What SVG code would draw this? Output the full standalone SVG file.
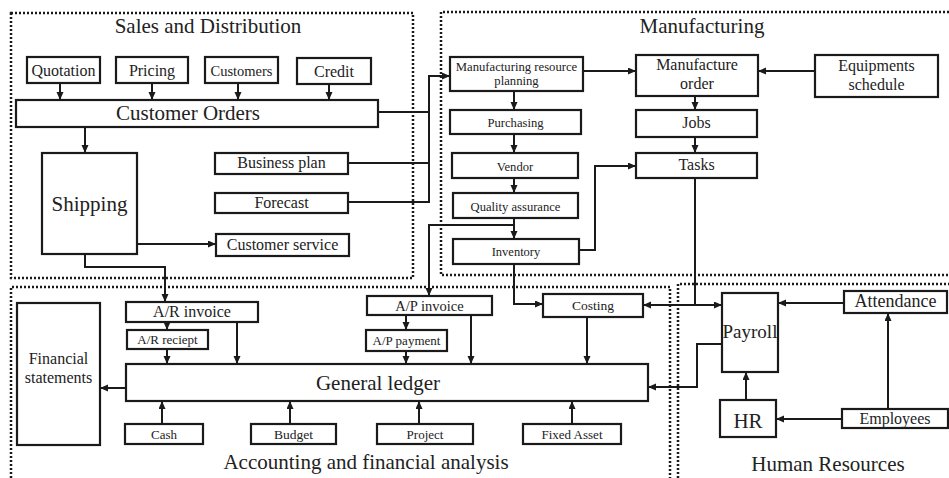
<svg xmlns="http://www.w3.org/2000/svg" width="949" height="478" viewBox="0 0 949 478" font-family="'Liberation Serif', 'DejaVu Serif', serif">
  <defs>
    <marker id="arrow" markerUnits="userSpaceOnUse" markerWidth="9" markerHeight="8" refX="8" refY="3.5" orient="auto-start-reverse">
      <path d="M0,0 L8,3.5 L0,7 z" fill="#1a1a1a"/>
    </marker>
  </defs>
  <style>
    .zone { fill: none; stroke: #1a1a1a; stroke-width: 2.5; stroke-dasharray: 2 2; }
    .box { fill: #fff; stroke: #1a1a1a; stroke-width: 2.2; }
    .wire { fill: none; stroke: #1a1a1a; stroke-width: 2; }
    .arr { marker-end: url(#arrow); }
    text { fill: #222; text-anchor: middle; }
    .title { font-size: 21px; }
  </style>

  <!-- functional areas -->
  <g id="areas">
    <rect class="zone" x="11" y="13" width="402" height="265"/>
    <path class="zone" d="M949,12 H441 V275 H949"/>
    <path class="zone" d="M11,478 V287 H670 V478"/>
    <path class="zone" d="M678,478 V284 H949"/>
    <text class="title" x="208" y="33">Sales and Distribution</text>
    <text class="title" x="702" y="33">Manufacturing</text>
    <text class="title" x="366" y="469">Accounting and financial analysis</text>
    <text class="title" x="828" y="471">Human Resources</text>
  </g>

  <!-- connectors -->
  <g id="connectors">
    <path class="wire arr" d="M60,83 V100"/>
    <path class="wire arr" d="M152,83 V100"/>
    <path class="wire arr" d="M238,83 V100"/>
    <path class="wire arr" d="M329,84 V100"/>
    <path class="wire arr" d="M85,127 V153"/>
    <path class="wire arr" d="M137,244 H216"/>
    <path class="wire arr" d="M85,254 V267 H165 V302"/>
    <path class="wire arr" d="M378,112 H429 V76 H450"/>
    <path class="wire" d="M348,163 H429"/>
    <path class="wire" d="M348,202 H429 V112"/>
    <path class="wire arr" d="M583,71 H636"/>
    <path class="wire arr" d="M815,71 H758"/>
    <path class="wire arr" d="M695,96 V110"/>
    <path class="wire arr" d="M695,137 V153"/>
    <path class="wire arr" d="M514,91 V110"/>
    <path class="wire arr" d="M514,134 V153"/>
    <path class="wire arr" d="M514,178 V193"/>
    <path class="wire arr" d="M514,218 V239"/>
    <path class="wire arr" d="M514,225 H429 V296"/>
    <path class="wire arr" d="M579,250 H595 V166 H636"/>
    <path class="wire arr" d="M514,264 V304 H543"/>
    <path class="wire" d="M695,178 V305"/>
    <path class="wire arr" d="M643,305 H722" marker-start="url(#arrow)"/>
    <path class="wire arr" d="M844,303 H778"/>
    <path class="wire arr" d="M722,344 H697 V387 H648"/>
    <path class="wire arr" d="M746,400 V372"/>
    <path class="wire arr" d="M842,419 H776"/>
    <path class="wire arr" d="M888,409 V313"/>
    <path class="wire arr" d="M167,322 V330"/>
    <path class="wire arr" d="M167,349 V364"/>
    <path class="wire arr" d="M237,322 V364"/>
    <path class="wire arr" d="M406,315 V330"/>
    <path class="wire arr" d="M406,351 V364"/>
    <path class="wire arr" d="M471,315 V364"/>
    <path class="wire arr" d="M587,317 V364"/>
    <path class="wire arr" d="M126,388 H100"/>
    <path class="wire arr" d="M162,424 V401"/>
    <path class="wire arr" d="M290,424 V401"/>
    <path class="wire arr" d="M419,424 V401"/>
    <path class="wire arr" d="M572,424 V401"/>
  </g>

  <!-- Sales and Distribution -->
  <g id="quotation"><rect class="box" x="27" y="57" width="73" height="26"/><text x="63.5" y="76" font-size="16">Quotation</text></g>
  <g id="pricing"><rect class="box" x="116" y="57" width="72" height="26"/><text x="152" y="76" font-size="16">Pricing</text></g>
  <g id="customers"><rect class="box" x="205" y="57" width="73" height="26"/><text x="241.5" y="76" font-size="14.5">Customers</text></g>
  <g id="credit"><rect class="box" x="297" y="58" width="74" height="26"/><text x="334" y="77" font-size="16">Credit</text></g>
  <g id="customer-orders"><rect class="box" x="16" y="100" width="362" height="27"/><text x="188" y="120" font-size="21">Customer Orders</text></g>
  <g id="shipping"><rect class="box" x="42" y="153" width="95" height="101"/><text x="89.5" y="211" font-size="21">Shipping</text></g>
  <g id="business-plan"><rect class="box" x="215" y="153" width="133" height="21"/><text x="281.5" y="168" font-size="16">Business plan</text></g>
  <g id="forecast"><rect class="box" x="215" y="193" width="133" height="20"/><text x="281.5" y="208" font-size="16">Forecast</text></g>
  <g id="customer-service"><rect class="box" x="216" y="234" width="133" height="22"/><text x="282.5" y="250" font-size="16">Customer service</text></g>

  <!-- Manufacturing -->
  <g id="mrp"><rect class="box" x="450" y="57" width="133" height="34"/><text x="516.5" y="71" font-size="12.7">Manufacturing resource</text><text x="516.5" y="85" font-size="12.7">planning</text></g>
  <g id="manufacture-order"><rect class="box" x="636" y="55" width="122" height="41"/><text x="697" y="70" font-size="16">Manufacture</text><text x="697" y="89" font-size="16">order</text></g>
  <g id="equipments-schedule"><rect class="box" x="815" y="55" width="123" height="42"/><text x="876.5" y="71" font-size="16">Equipments</text><text x="876.5" y="90" font-size="16">schedule</text></g>
  <g id="jobs"><rect class="box" x="636" y="110" width="121" height="27"/><text x="696.5" y="128" font-size="16">Jobs</text></g>
  <g id="tasks"><rect class="box" x="636" y="153" width="121" height="25"/><text x="696.5" y="170" font-size="16">Tasks</text></g>
  <g id="purchasing"><rect class="box" x="450" y="110" width="131" height="24"/><text x="515.5" y="127" font-size="12.6">Purchasing</text></g>
  <g id="vendor"><rect class="box" x="452" y="153" width="126" height="25"/><text x="515" y="171" font-size="12.6">Vendor</text></g>
  <g id="quality-assurance"><rect class="box" x="453" y="193" width="125" height="25"/><text x="515.5" y="211" font-size="12.6">Quality assurance</text></g>
  <g id="inventory"><rect class="box" x="453" y="239" width="126" height="25"/><text x="516" y="256" font-size="12.5">Inventory</text></g>

  <!-- Accounting and financial analysis -->
  <g id="ar-invoice"><rect class="box" x="126" y="302" width="132" height="20"/><text x="192" y="317" font-size="16">A/R invoice</text></g>
  <g id="ar-receipt"><rect class="box" x="127" y="330" width="81" height="19"/><text x="167.5" y="344" font-size="13">A/R reciept</text></g>
  <g id="ap-invoice"><rect class="box" x="367" y="296" width="125" height="19"/><text x="429.5" y="310.5" font-size="14.5">A/P invoice</text></g>
  <g id="ap-payment"><rect class="box" x="366" y="330" width="81" height="21"/><text x="406.5" y="345" font-size="13">A/P payment</text></g>
  <g id="costing"><rect class="box" x="543" y="294" width="100" height="23"/><text x="593" y="310" font-size="13.5">Costing</text></g>
  <g id="general-ledger"><rect class="box" x="126" y="364" width="522" height="37"/><text x="378" y="390" font-size="21">General ledger</text></g>
  <g id="financial-statements"><rect class="box" x="17" y="303" width="83" height="142"/><text x="58.5" y="364" font-size="16">Financial</text><text x="58.5" y="383" font-size="16">statements</text></g>
  <g id="cash"><rect class="box" x="125" y="424" width="78" height="20"/><text x="164" y="438.5" font-size="13">Cash</text></g>
  <g id="budget"><rect class="box" x="251" y="424" width="85" height="20"/><text x="293.5" y="438.5" font-size="13.5">Budget</text></g>
  <g id="project"><rect class="box" x="377" y="424" width="96" height="20"/><text x="425" y="438.5" font-size="13">Project</text></g>
  <g id="fixed-asset"><rect class="box" x="523" y="424" width="98" height="20"/><text x="572" y="438.5" font-size="13">Fixed Asset</text></g>

  <!-- Human Resources -->
  <g id="payroll"><rect class="box" x="722" y="293" width="56" height="79"/><text x="750" y="338" font-size="19">Payroll</text></g>
  <g id="attendance"><rect class="box" x="844" y="291" width="103" height="22"/><text x="895.5" y="307" font-size="18">Attendance</text></g>
  <g id="hr"><rect class="box" x="720" y="400" width="56" height="37"/><text x="748" y="428" font-size="21">HR</text></g>
  <g id="employees"><rect class="box" x="842" y="409" width="106" height="19"/><text x="895" y="423.5" font-size="16">Employees</text></g>
</svg>
